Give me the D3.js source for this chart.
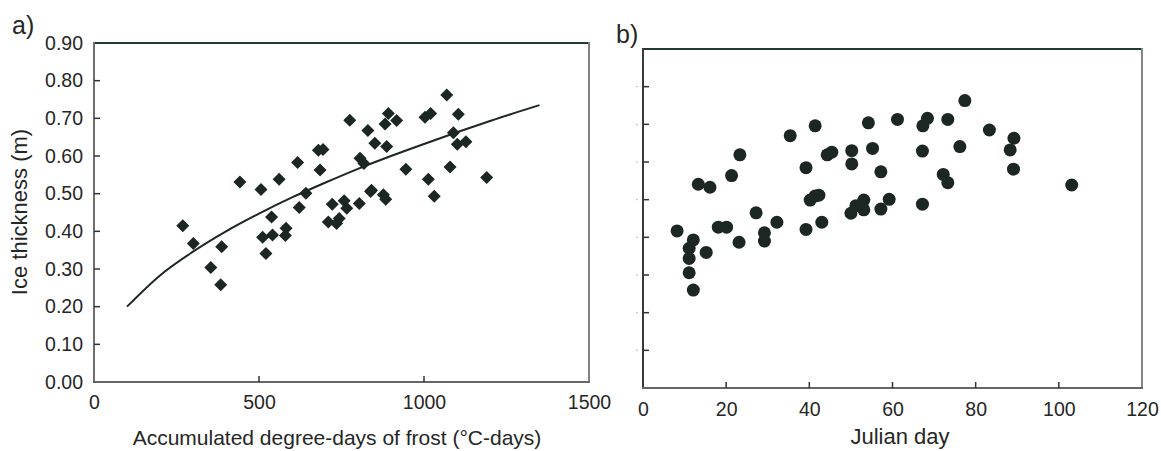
<!DOCTYPE html>
<html><head><meta charset="utf-8">
<script src="https://cdn.jsdelivr.net/npm/d3@7/dist/d3.min.js"></script>
<style>
html,body{margin:0;padding:0;background:#fff;}
svg{display:block;}
text{font-family:"Liberation Sans",Arial,sans-serif;fill:#262626;}
</style></head>
<body>
<svg id="chart" width="1161" height="451"></svg>
<script>
// ---------- DATA ----------
// Panel a: accumulated degree-days of frost vs ice thickness
const degreeDays = [269,301,354,384,387,442,506,521,511,538,541,561,582,580,617,622,642,685,680,694,710,722,735,743,758,766,775,804,806,818,830,838,851,841,877,884,887,882,892,917,945,1003,1020,1013,1031,1069,1079,1089,1101,1104,1127,1190];
const iceA       = [0.415,0.368,0.304,0.258,0.359,0.531,0.511,0.341,0.384,0.438,0.390,0.538,0.408,0.389,0.583,0.463,0.501,0.563,0.615,0.617,0.425,0.472,0.421,0.434,0.481,0.461,0.695,0.474,0.594,0.580,0.668,0.506,0.634,0.509,0.497,0.485,0.625,0.685,0.713,0.694,0.565,0.703,0.713,0.538,0.493,0.762,0.571,0.662,0.631,0.711,0.638,0.543];
// fitted curve
const curveDD  = [100,200,300,400,500,600,700,800,900,1000,1100,1200,1350];
const curveIce = [0.200,0.283,0.346,0.400,0.447,0.490,0.529,0.566,0.600,0.632,0.663,0.693,0.735];
// Panel b: Julian day vs ice thickness
const julianDay = [8.2,12.1,11.1,11.1,11.1,12.1,13.3,16.1,15.2,18.1,20.1,21.3,23.3,23.1,27.2,29.2,29.2,32.2,35.4,41.4,39.2,39.2,40.2,41.4,42.3,43.0,44.3,45.4,50.2,50.2,50.0,51.2,53.1,53.1,54.2,55.2,57.2,57.2,59.2,61.2,77.4,68.4,67.3,73.3,83.3,89.2,88.3,67.2,76.2,72.2,73.3,89.1,103.1,67.2];
const iceB      = [0.417,0.393,0.371,0.344,0.306,0.260,0.541,0.533,0.360,0.427,0.427,0.564,0.619,0.387,0.465,0.412,0.390,0.440,0.670,0.696,0.585,0.421,0.499,0.510,0.512,0.440,0.619,0.626,0.630,0.595,0.464,0.484,0.499,0.473,0.704,0.636,0.574,0.475,0.501,0.713,0.763,0.716,0.696,0.713,0.685,0.663,0.632,0.629,0.641,0.567,0.545,0.581,0.539,0.488];
const yTicks  = [0,0.1,0.2,0.3,0.4,0.5,0.6,0.7,0.8,0.9];
const xTicksA = [0,500,1000,1500];
const xTicksB = [0,20,40,60,80,100,120];

// ---------- DRAW ----------
const svg = d3.select("#chart");
const ink = "#1c2623";

// frame drawn as thin filled rects
function frame(g, x, y, cols){
  const [x0,x1] = x.range(), [y0,y1] = y.range();
  g.append("rect").attr("x",x0-1).attr("y",y1-1).attr("width",x1-x0+2).attr("height",2).attr("fill",cols.top);
  g.append("rect").attr("x",x1-1).attr("y",y1-1).attr("width",2).attr("height",y0-y1+2).attr("fill",cols.right);
  g.append("rect").attr("x",x0-1).attr("y",y1-1).attr("width",2).attr("height",y0-y1+2).attr("fill",cols.left);
  g.append("rect").attr("x",x0-1).attr("y",y0-1).attr("width",x1-x0+2).attr("height",2).attr("fill",cols.bottom);
}
// inner ticks as small filled rects
function ticks(g, x, y, xt, yt){
  const [x0] = x.range(), [y0] = y.range();
  const xi = xt.slice(1,-1), yi = yt.slice(1,-1);
  g.append("g").selectAll("rect").data(xi).join("rect")
    .attr("x",d=>x(d)-0.75).attr("y",y0-6).attr("width",1.5).attr("height",6).attr("fill","#333");
  g.append("g").selectAll("rect").data(yi).join("rect")
    .attr("x",x0).attr("y",d=>y(d)-0.75).attr("width",6).attr("height",1.5).attr("fill","#333");
}
function styleAxis(a){
  a.select(".domain").remove();
  a.selectAll(".tick line").remove();
  a.selectAll(".tick text").attr("font-size","19.5px").attr("fill","#262626").attr("font-family","Liberation Sans, Arial, sans-serif");
}

// Panel a
const xA = d3.scaleLinear().domain([0,1500]).range([94,589]);
const yA = d3.scaleLinear().domain([0,0.9]).range([382,43]);
const gA = svg.append("g");

const axYA = gA.append("g").attr("transform","translate(94,0)")
  .call(d3.axisLeft(yA).tickValues(yTicks).tickFormat(d3.format(".2f")).tickSizeInner(0).tickSizeOuter(0).tickPadding(11));
const axXA = gA.append("g").attr("transform","translate(0,382)")
  .call(d3.axisBottom(xA).tickValues(xTicksA).tickFormat(d3.format("d")).tickSizeInner(0).tickSizeOuter(0).tickPadding(13));
styleAxis(axYA); styleAxis(axXA);
frame(gA, xA, yA, {top:"#1f3a33", right:"#808080", left:"#6f6f6f", bottom:"#666666"});
ticks(gA, xA, yA, xTicksA, yTicks);

gA.append("text").attr("x",337).attr("y",445).attr("text-anchor","middle").attr("font-size","21px")
  .text("Accumulated degree-days of frost (\u00B0C-days)");
gA.append("text").attr("transform","translate(27,212) rotate(-90)").attr("text-anchor","middle").attr("font-size","22px")
  .text("Ice thickness (m)");
svg.append("text").attr("x",12).attr("y",34).attr("font-size","25px").attr("font-family","Liberation Serif, Times New Roman, serif").attr("fill","#222").text("a)");

// curve
const curvePts = curveDD.map((d,i)=>[d,curveIce[i]]);
gA.append("path").datum(curvePts)
  .attr("d", d3.line().x(d=>xA(d[0])).y(d=>yA(d[1])).curve(d3.curveMonotoneX))
  .attr("fill","none").attr("stroke",ink).attr("stroke-width",2);

// diamonds
const dHalf = 6.5;
gA.append("g").selectAll("path").data(degreeDays.map((d,i)=>[d,iceA[i]])).join("path")
  .attr("d", d=>{const cx=xA(d[0]), cy=yA(d[1]);
    return `M${cx},${cy-dHalf}L${cx+dHalf},${cy}L${cx},${cy+dHalf}L${cx-dHalf},${cy}Z`;})
  .attr("fill",ink);

// Panel b
const xB = d3.scaleLinear().domain([0,120]).range([643,1142]);
const yB = d3.scaleLinear().domain([0,0.9]).range([388,49]);
const gB = svg.append("g");

const axXB = gB.append("g").attr("transform","translate(0,388)")
  .call(d3.axisBottom(xB).tickValues(xTicksB).tickFormat(d3.format("d")).tickSizeInner(0).tickSizeOuter(0).tickPadding(14));
styleAxis(axXB);
frame(gB, xB, yB, {top:"#1f3a33", right:"#858585", left:"#3a3a3a", bottom:"#666666"});
ticks(gB, xB, yB, xTicksB, yTicks);
// faint outer marks left of panel b
gB.append("g").selectAll("rect").data(yTicks.slice(1,-1)).join("rect")
  .attr("x",636).attr("y",d=>yB(d)-0.5).attr("width",2).attr("height",1).attr("fill","#bbb");

gB.append("text").attr("x",900).attr("y",444).attr("text-anchor","middle").attr("font-size","22px").text("Julian day");
svg.append("text").attr("x",616).attr("y",43).attr("font-size","25px").attr("font-family","Liberation Serif, Times New Roman, serif").attr("fill","#222").text("b)");

gB.append("g").selectAll("circle").data(julianDay.map((d,i)=>[d,iceB[i]])).join("circle")
  .attr("cx",d=>xB(d[0])).attr("cy",d=>yB(d[1])).attr("r",6.5).attr("fill",ink);
</script>
</body></html>
